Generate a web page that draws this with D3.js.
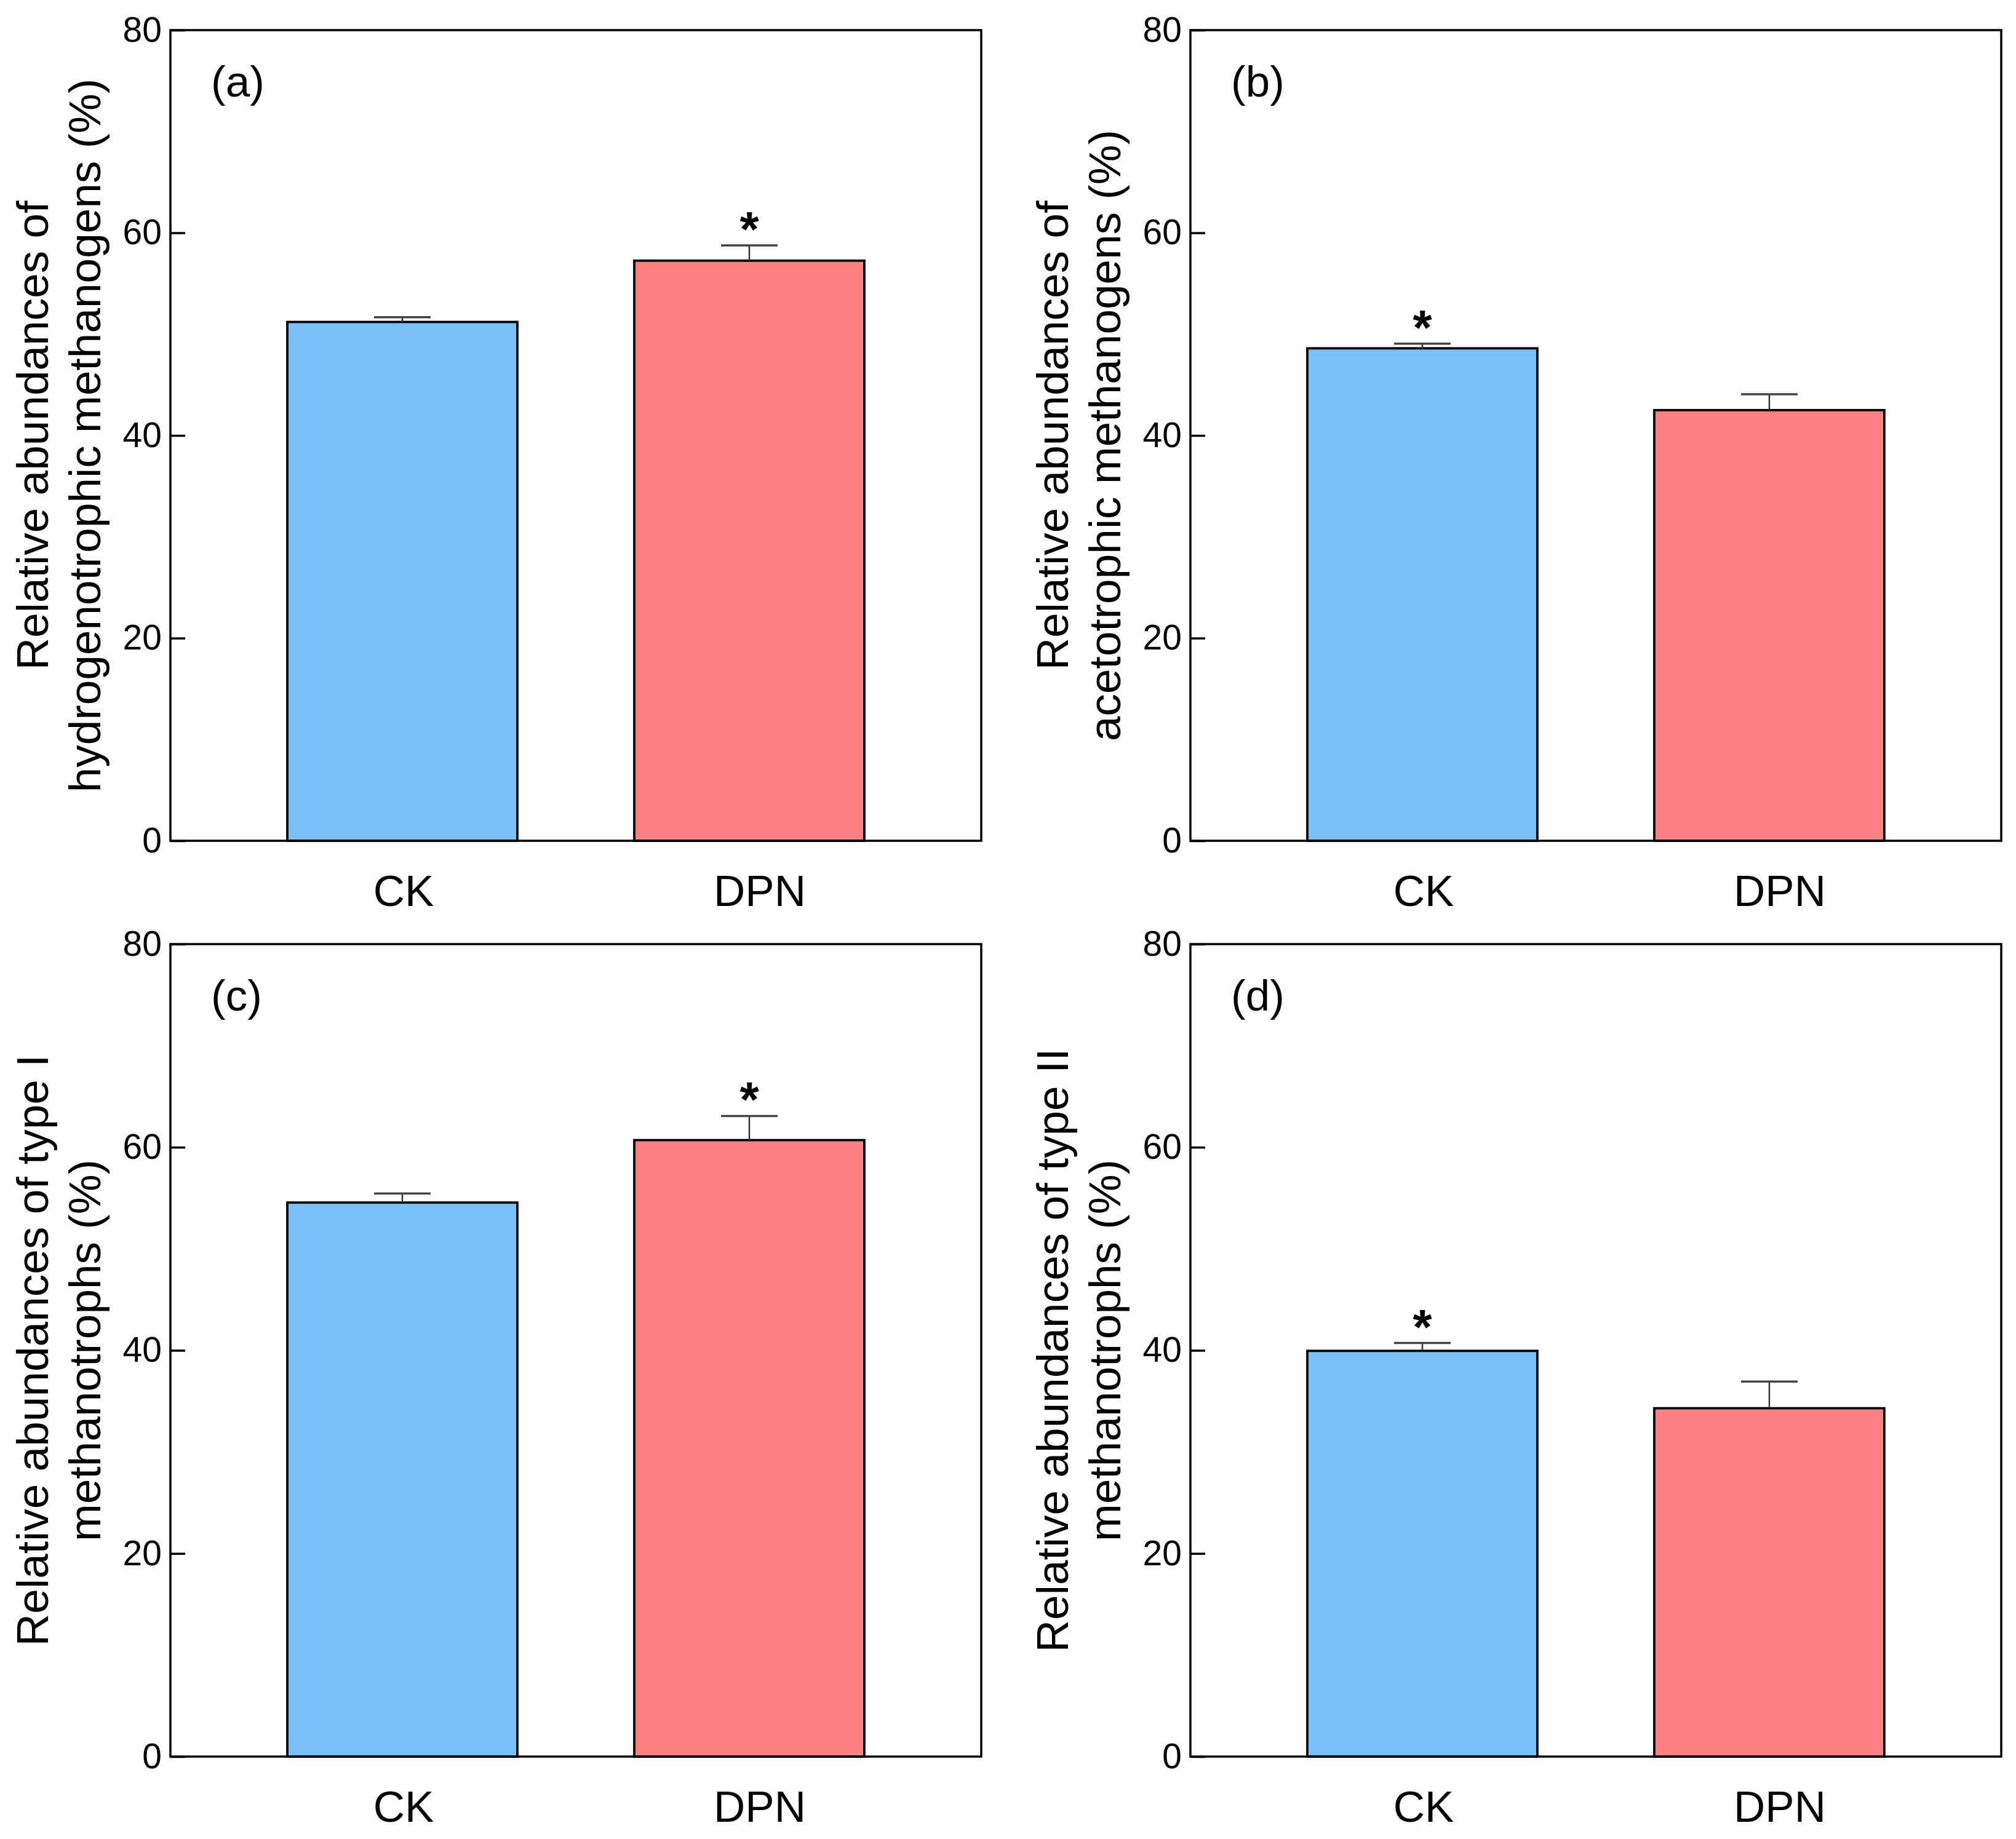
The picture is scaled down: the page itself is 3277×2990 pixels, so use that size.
<!DOCTYPE html>
<html>
<head>
<meta charset="utf-8">
<script src="https://cdn.jsdelivr.net/npm/d3@7"></script>
<style>
  html, body { margin: 0; padding: 0; background: #fff; }
  svg { display: block; }
  text { font-family: "Liberation Sans", Arial, Helvetica, sans-serif; fill: #000; }
</style>
</head>
<body>
<svg id="chart" width="3277" height="2990"></svg>
<script>
// ---------------- data ----------------
const categories = ["CK", "DPN"];
const panelLabels = ["(a)", "(b)", "(c)", "(d)"];
const titlesLine1 = ["Relative abundances of", "Relative abundances of", "Relative abundances of type I", "Relative abundances of type II"];
const titlesLine2 = ["hydrogenotrophic methanogens (%)", "acetotrophic methanogens (%)", "methanotrophs (%)", "methanotrophs (%)"];
const meansA = [51.2, 57.25];
const meansB = [48.6, 42.5];
const meansC = [54.55, 60.7];
const meansD = [39.95, 34.3];
const errA = [0.47, 1.5];
const errB = [0.46, 1.56];
const errC = [0.9, 2.38];
const errD = [0.77, 2.63];
const sigA = [false, true];
const sigB = [true, false];
const sigC = [false, true];
const sigD = [true, false];
const yTicks = [0, 20, 40, 60, 80];
const barColors = ["#7BBFFA", "#FF8080"];

const panels = [
  { means: meansA, errs: errA, sig: sigA },
  { means: meansB, errs: errB, sig: sigB },
  { means: meansC, errs: errC, sig: sigC },
  { means: meansD, errs: errD, sig: sigD }
];

// ---------------- layout ----------------
const W = 1318;
const heights = [1318, 1318, 1321, 1321];
const origins = [[277, 49], [1935, 49], [277, 1535], [1935, 1535]];

const svg = d3.select("#chart");

const x = d3.scaleBand().domain(categories).range([0, W]).paddingInner(0.337).paddingOuter(0.337);

panels.forEach((p, i) => {
  const H = heights[i];
  const y = d3.scaleLinear().domain([0, 80]).range([H, 0]);
  const g = svg.append("g").attr("transform", `translate(${origins[i][0]},${origins[i][1]})`);

  // bars
  g.selectAll("rect.bar").data(categories).join("rect")
    .attr("class", "bar")
    .attr("x", d => x(d))
    .attr("width", x.bandwidth())
    .attr("y", (d, j) => y(p.means[j]))
    .attr("height", (d, j) => H - y(p.means[j]))
    .attr("fill", (d, j) => barColors[j])
    .attr("stroke", "#000")
    .attr("stroke-width", 3.8);

  // error bars
  const capHalf = 46;
  categories.forEach((c, j) => {
    const cx = x(c) + x.bandwidth() / 2;
    const top = y(p.means[j] + p.errs[j]);
    g.append("line")
      .attr("x1", cx).attr("x2", cx)
      .attr("y1", y(p.means[j])).attr("y2", top)
      .attr("stroke", "#333").attr("stroke-width", 2.5);
    g.append("line")
      .attr("x1", cx - capHalf).attr("x2", cx + capHalf)
      .attr("y1", top).attr("y2", top)
      .attr("stroke", "#444").attr("stroke-width", 3.5);
    if (p.sig[j]) {
      g.append("text")
        .attr("x", cx)
        .attr("y", top + 1)
        .attr("text-anchor", "middle")
        .attr("font-size", 80)
        .attr("font-weight", "bold")
        .text("*");
    }
  });

  // y axis
  const yAxis = g.append("g")
    .call(d3.axisLeft(y).tickValues(yTicks).tickFormat(d3.format("d")).tickSizeInner(-24).tickSizeOuter(0).tickPadding(14));
  yAxis.select(".domain").remove();
  yAxis.selectAll(".tick line").attr("stroke", "#000").attr("stroke-width", 3.5);
  yAxis.selectAll(".tick text").attr("font-size", 57).attr("fill", "#000")
    .style("font-family", "'Liberation Sans', Arial, sans-serif");

  // x axis
  const xAxis = g.append("g").attr("transform", `translate(0,${H})`)
    .call(d3.axisBottom(x).tickSize(0).tickPadding(56));
  xAxis.select(".domain").remove();
  xAxis.selectAll(".tick text").attr("font-size", 71).attr("fill", "#000")
    .attr("dx", d => d === "DPN" ? 17 : 2)
    .style("font-family", "'Liberation Sans', Arial, sans-serif");

  // frame
  g.append("rect")
    .attr("x", 0).attr("y", 0).attr("width", W).attr("height", H)
    .attr("fill", "none").attr("stroke", "#000").attr("stroke-width", 3.5);

  // panel label
  g.append("text")
    .attr("x", 66).attr("y", 108)
    .attr("font-size", 71)
    .text(panelLabels[i]);

  // y title (two lines)
  const cy = H / 2;
  g.append("text")
    .attr("transform", `translate(-199,${cy}) rotate(-90)`)
    .attr("text-anchor", "middle")
    .attr("font-size", 73)
    .text(titlesLine1[i]);
  g.append("text")
    .attr("transform", `translate(-114,${cy}) rotate(-90)`)
    .attr("text-anchor", "middle")
    .attr("font-size", 73)
    .text(titlesLine2[i]);
});
</script>
</body>
</html>
